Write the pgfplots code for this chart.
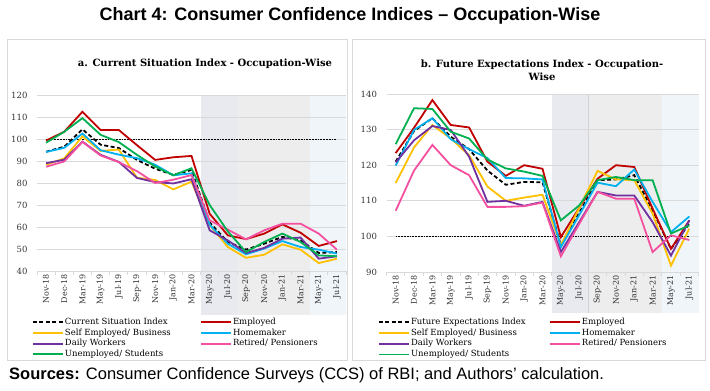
\documentclass[border=0pt]{standalone}
\usepackage{pgfplots}
\pgfplotsset{compat=1.18}
\usepackage{pgfplotstable}
\usepackage{fontspec}
\setmainfont{DejaVu Serif}
\newfontfamily\arialfont{Liberation Sans}
\definecolor{cRed}{HTML}{C00000}
\definecolor{cYel}{HTML}{FFC000}
\definecolor{cCyan}{HTML}{00B0F0}
\definecolor{cPur}{HTML}{7030A0}
\definecolor{cPink}{RGB}{245,80,160}
\definecolor{cGreen}{HTML}{00B050}
\definecolor{gridc}{RGB}{217,217,217}
\definecolor{boxc}{RGB}{217,217,217}
\definecolor{labc}{RGB}{50,50,50}
\definecolor{shA}{RGB}{232,234,240}
\definecolor{shB}{RGB}{237,237,237}
\definecolor{shC}{RGB}{240,245,250}

\pgfplotstableread{
i csi emp self home daily ret unemp
0 94.2 99.3 88.3 94.1 89.0 87.4 98.3
1 96.5 103.3 91.2 96.0 90.6 89.8 103.3
2 104.4 112.4 101.2 102.5 98.8 98.7 109.5
3 97.4 104.1 94.6 94.9 92.8 92.5 101.9
4 95.9 104.1 95.2 92.9 89.6 89.5 98.6
5 90.5 97.2 82.4 91.3 82.3 85.4 92.8
6 86.5 90.5 81.4 88.3 80.4 80.0 87.5
7 83.7 91.7 77.1 83.5 79.8 81.5 83.5
8 85.9 92.3 80.6 84.4 81.7 83.6 86.7
9 62.0 66.0 61.0 61.0 58.5 63.0 70.0
10 53.2 56.2 50.9 52.4 53.9 58.8 58.0
11 49.7 54.5 46.0 47.6 48.2 54.4 48.6
12 52.4 57.0 47.4 50.2 50.5 58.5 53.2
13 55.5 61.2 52.1 53.6 54.7 61.5 57.0
14 53.9 57.4 49.7 50.9 55.2 61.5 53.2
15 48.2 51.4 43.6 49.7 45.6 57.0 47.1
16 48.6 53.6 45.6 47.9 46.7 49.7 46.7
}\tabA

\pgfplotstableread{
i csi emp self home daily ret unemp
0 121.0 123.4 115.0 119.9 120.8 107.2 125.9
1 129.6 130.5 125.0 129.9 127.0 118.5 136.0
2 133.2 138.3 131.3 133.2 131.0 125.7 135.8
3 128.0 131.3 127.5 127.3 129.9 120.0 129.4
4 124.5 130.6 122.8 124.5 122.4 117.2 127.5
5 118.5 121.0 114.0 122.0 109.7 108.3 121.6
6 114.5 117.0 110.0 116.4 110.0 108.3 119.1
7 115.3 120.0 110.9 116.3 108.6 108.5 118.2
8 115.2 119.0 111.7 116.0 109.7 109.5 117.0
9 97.5 99.8 97.5 97.0 95.6 94.4 104.5
10 106.6 108.0 108.0 106.0 104.0 103.5 108.7
11 115.8 116.2 118.4 115.1 112.5 112.5 115.8
12 116.0 120.0 116.0 114.1 111.5 110.6 116.7
13 117.2 119.5 115.8 118.8 111.5 110.6 115.8
14 107.3 107.8 106.4 109.7 104.0 95.6 115.8
15 96.5 96.5 91.8 101.2 94.6 100.3 100.8
16 103.6 104.5 102.2 105.6 104.5 99.0 103.1
}\tabB

\pgfplotsset{
  occ/.style={
    scale only axis, anchor=south west,
    xmin=-0.5, xmax=16.5,
    enlargelimits=false, clip=false,
    xtick={0,...,16},
    xticklabels={Nov-18,Dec-18,Mar-19,May-19,Jul-19,Sep-19,Nov-19,Jan-20,Mar-20,May-20,Jul-20,Sep-20,Nov-20,Jan-21,Mar-21,May-21,Jul-21},
    minor xtick={-0.5,0.5,...,16.5},
    major tick length=0pt, minor tick length=4pt, tick align=outside,
    xtick pos=left, ytick pos=left,
    axis x line*=bottom, axis y line*=left,
    x axis line style={draw=gridc, line width=0.8pt, -},
    y axis line style={draw=none},
    ymajorgrids, xmajorgrids=false,
    major grid style={draw=gridc, line width=0.8pt},
    minor tick style={draw=gridc, line width=0.8pt},
    ticklabel style={font=\fontsize{8.5}{10}\selectfont, text=labc},
    xticklabel style={rotate=90, anchor=east, font=\fontsize{8}{9.6}\selectfont},
    yticklabel style={xshift=-6pt},
    /pgf/number format/assume math mode=true,
    legend columns=2, legend cell align=left,
    legend image code/.code={\draw[##1] (0pt,0pt) -- (30pt,0pt);},
    legend style={draw=none, fill=none, anchor=north west, inner sep=0pt, outer sep=0pt,
      font=\fontsize{8.5}{10}\selectfont,
      nodes={inner sep=1.2pt, text height=6.3pt, text depth=2pt}},
    every axis plot/.append style={line width=1.8pt},
  }
}

\begin{document}
\begin{tikzpicture}[x=1pt,y=1pt]
\path (0,0) rectangle (710,391);
% panel boxes
\draw[draw=boxc, line width=1pt] (7,351) rectangle (347,30);
\draw[draw=boxc, line width=1pt] (352,351) rectangle (705,30);
% shaded periods (left axis: x = 37 + (v+0.5)*18.176; right axis: x = 386.5 + (v+0.5)*18.353)
\fill[shA] (200.6,76) rectangle (237.0,296);
\fill[shB] (237.0,76) rectangle (309.6,296);
\fill[shC] (309.6,76) rectangle (346.0,296);
\fill[shA] (551.7,78) rectangle (588.4,297);
\fill[shB] (588.4,78) rectangle (661.8,297);
\fill[shC] (661.8,78) rectangle (698.5,297);
\draw[gray!35, line width=0.6pt] (588.4,78) -- (588.4,297);
% titles
\node[font=\arialfont\bfseries\fontsize{18}{20}\selectfont] at (350,375) {Chart 4: Consumer Confidence Indices – Occupation-Wise};
\node[anchor=west, font=\arialfont\fontsize{16.5}{18}\selectfont, inner sep=0pt] at (9,16) {{\bfseries Sources:} Consumer Confidence Surveys (CCS) of RBI; and Authors’ calculation.};
\node[font=\bfseries\fontsize{10}{11}\selectfont] at (205,327) {a. Current Situation Index - Occupation-Wise};
\node[font=\bfseries\fontsize{10}{12.7}\selectfont, align=center] at (542,320.5) {b. Future Expectations Index - Occupation-\\Wise};

\begin{axis}[occ, at={(37pt,120pt)}, width=309pt, height=176pt,
  ymin=40, ymax=120, ytick={40,50,...,120},
  legend style={at={(-0.0162,-0.261)}, /tikz/every even column/.append style={column sep=28pt}}]
\addplot[black, densely dotted, line width=1pt, forget plot] coordinates {(0,100) (16,100)};
\addplot[black, dash pattern=on 4pt off 2.5pt] table[x=i,y=csi] {\tabA};
\addplot[cRed] table[x=i,y=emp] {\tabA};
\addplot[cYel] table[x=i,y=self] {\tabA};
\addplot[cCyan] table[x=i,y=home] {\tabA};
\addplot[cPur] table[x=i,y=daily] {\tabA};
\addplot[cPink] table[x=i,y=ret] {\tabA};
\addplot[cGreen] table[x=i,y=unemp] {\tabA};
\legend{Current Situation Index, Employed, Self Employed/ Business, Homemaker, Daily Workers, Retired/ Pensioners, Unemployed/ Students}
\end{axis}

\begin{axis}[occ, at={(386.5pt,119pt)}, width=312pt, height=178pt,
  ymin=90, ymax=140, ytick={90,100,...,140},
  legend style={at={(-0.027,-0.253)}, /tikz/every even column/.append style={column sep=22pt}}]
\addplot[black, densely dotted, line width=1pt, forget plot] coordinates {(0,100) (16,100)};
\addplot[black, dash pattern=on 4pt off 2.5pt] table[x=i,y=csi] {\tabB};
\addplot[cRed] table[x=i,y=emp] {\tabB};
\addplot[cYel] table[x=i,y=self] {\tabB};
\addplot[cCyan] table[x=i,y=home] {\tabB};
\addplot[cPur] table[x=i,y=daily] {\tabB};
\addplot[cPink] table[x=i,y=ret] {\tabB};
\addplot[cGreen] table[x=i,y=unemp] {\tabB};
\legend{Future Expectations Index, Employed, Self Employed/ Business, Homemaker, Daily Workers, Retired/ Pensioners, Unemployed/ Students}
\end{axis}
\end{tikzpicture}
\end{document}
